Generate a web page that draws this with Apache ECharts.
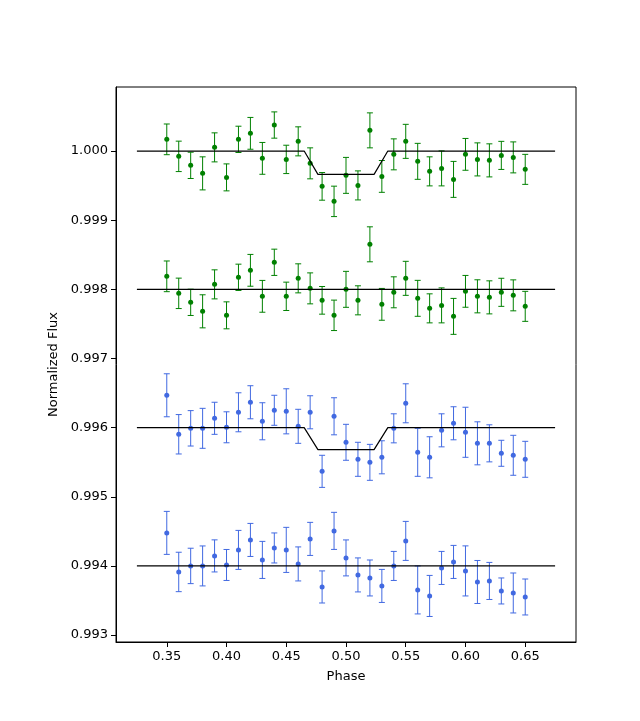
<!DOCTYPE html>
<html>
<head>
<meta charset="utf-8">
<script src="https://cdn.jsdelivr.net/npm/echarts@6/dist/echarts.min.js"></script>
<style>html,body{margin:0;padding:0;background:#fff;}#c{width:640px;height:721px;}</style>
</head>
<body>
<div id="c"></div>
<script>
const phase = [0.35,0.36,0.37,0.38,0.39,0.40,0.41,0.42,0.43,0.44,0.45,0.46,0.47,0.48,0.49,0.50,0.51,0.52,0.53,0.54,0.55,0.56,0.57,0.58,0.59,0.60,0.61,0.62,0.63,0.64,0.65];

const greenRaw = [1.000169,0.999923,0.999793,0.999677,1.000053,0.999619,1.000169,1.000256,0.999894,1.000376,0.999879,1.000140,0.999822,0.999489,0.999272,0.999648,0.999503,1.000299,0.999633,0.999952,1.000140,0.999851,0.999706,0.999749,0.999590,0.999952,0.999879,0.999865,0.999937,0.999908,0.999735];
const greenDetr = [0.998188,0.997942,0.997812,0.997682,0.998072,0.997624,0.998174,0.998275,0.997899,0.998391,0.997899,0.998159,0.998014,0.997841,0.997624,0.998000,0.997841,0.998651,0.997783,0.997957,0.998159,0.997870,0.997725,0.997768,0.997609,0.997971,0.997899,0.997884,0.997957,0.997913,0.997754];
const greenErr = [0.000222,0.000220,0.000190,0.000239,0.000210,0.000195,0.000190,0.000230,0.000230,0.000190,0.000205,0.000210,0.000224,0.000200,0.000220,0.000260,0.000210,0.000253,0.000230,0.000224,0.000246,0.000260,0.000210,0.000253,0.000260,0.000230,0.000239,0.000239,0.000203,0.000224,0.000217];

const blueRaw = [0.996468,0.995904,0.995990,0.995990,0.996135,0.996005,0.996222,0.996367,0.996092,0.996251,0.996236,0.996019,0.996222,0.995368,0.996164,0.995788,0.995542,0.995498,0.995571,0.995990,0.996352,0.995643,0.995571,0.995961,0.996063,0.995933,0.995773,0.995773,0.995629,0.995600,0.995542];
const blueDetr = [0.994478,0.993913,0.994000,0.994000,0.994145,0.994014,0.994232,0.994376,0.994087,0.994260,0.994232,0.994029,0.994391,0.993696,0.994507,0.994116,0.993870,0.993826,0.993711,0.994000,0.994362,0.993653,0.993566,0.993971,0.994058,0.993928,0.993768,0.993783,0.993638,0.993609,0.993551];
const blueErr = [0.000311,0.000285,0.000256,0.000289,0.000232,0.000224,0.000282,0.000239,0.000268,0.000217,0.000326,0.000246,0.000239,0.000232,0.000268,0.000260,0.000246,0.000260,0.000239,0.000210,0.000282,0.000347,0.000297,0.000239,0.000239,0.000362,0.000311,0.000268,0.000188,0.000289,0.000260];

const modelPhase = [0.325,0.465,0.4765,0.5235,0.535,0.675];
const greenModel = [1.000000,1.000000,0.999662,0.999662,1.000000,1.000000];
const blueModel = [0.996000,0.996000,0.995682,0.995682,0.996000,0.996000];
const flatPhase = [0.325,0.675];
const greenFlat = [0.998,0.998];
const blueFlat = [0.994,0.994];

const xTicks = [0.35,0.40,0.45,0.50,0.55,0.60,0.65];
const yTicks = [0.993,0.994,0.995,0.996,0.997,0.998,0.999,1.000];

const GREEN = '#008000', BLUE = '#4169E1';

function errSeries(vals, errs, color) {
  return {
    type: 'custom',
    data: phase.map((p, i) => [p, vals[i] - errs[i], vals[i] + errs[i]]),
    encode: { x: 0, y: [1, 2] },
    z: 2,
    silent: true,
    renderItem: function (params, api) {
      const lo = api.coord([api.value(0), api.value(1)]);
      const hi = api.coord([api.value(0), api.value(2)]);
      const cw = 3;
      const st = { stroke: color, lineWidth: 1 };
      return {
        type: 'group',
        children: [
          { type: 'line', shape: { x1: lo[0], y1: lo[1], x2: hi[0], y2: hi[1] }, style: st },
          { type: 'line', shape: { x1: lo[0] - cw, y1: lo[1], x2: lo[0] + cw, y2: lo[1] }, style: st },
          { type: 'line', shape: { x1: hi[0] - cw, y1: hi[1], x2: hi[0] + cw, y2: hi[1] }, style: st }
        ]
      };
    }
  };
}
function pts(vals, color) {
  return {
    type: 'scatter',
    data: phase.map((p, i) => [p, vals[i]]),
    symbol: 'circle',
    symbolSize: 5,
    itemStyle: { color: color, opacity: 1 },
    z: 3,
    silent: true
  };
}
function line(xs, ys) {
  return {
    type: 'line',
    data: xs.map((x, i) => [x, ys[i]]),
    symbol: 'none',
    lineStyle: { color: '#000', width: 1.2 },
    z: 4,
    silent: true,
    animation: false
  };
}

const chart = echarts.init(document.getElementById('c'));
chart.setOption({
  animation: false,
  backgroundColor: '#fff',
  textStyle: { fontFamily: 'DejaVu Sans' },
  grid: { left: 116, right: 64, top: 87, bottom: 79, show: true, borderColor: '#000', borderWidth: 1, backgroundColor: 'transparent' },
  xAxis: {
    type: 'value',
    min: 0.3075, max: 0.6925,
    name: 'Phase', nameLocation: 'middle', nameGap: 28,
    nameTextStyle: { color: '#000', fontSize: 13, fontFamily: 'DejaVu Sans' },
    axisLine: { show: true, onZero: false, lineStyle: { color: '#000', width: 1 } },
    axisTick: { show: true, length: 5, lineStyle: { color: '#000' }, customValues: xTicks },
    axisLabel: { color: '#000', fontSize: 13, margin: 8, customValues: xTicks, formatter: v => v.toFixed(2) },
    splitLine: { show: false }
  },
  yAxis: {
    type: 'value',
    min: 0.99290, max: 1.000926,
    name: 'Normalized Flux', nameLocation: 'middle', nameGap: 56, nameRotate: 90,
    nameTextStyle: { color: '#000', fontSize: 13, fontFamily: 'DejaVu Sans' },
    axisLine: { show: true, onZero: false, lineStyle: { color: '#000', width: 1 } },
    axisTick: { show: true, length: 5, lineStyle: { color: '#000' }, customValues: yTicks },
    axisLabel: { color: '#000', fontSize: 13, margin: 8, customValues: yTicks, formatter: v => v.toFixed(3) },
    splitLine: { show: false }
  },
  series: [
    errSeries(greenRaw, greenErr, GREEN), pts(greenRaw, GREEN),
    errSeries(greenDetr, greenErr, GREEN), pts(greenDetr, GREEN),
    errSeries(blueRaw, blueErr, BLUE), pts(blueRaw, BLUE),
    errSeries(blueDetr, blueErr, BLUE), pts(blueDetr, BLUE),
    line(modelPhase, greenModel),
    line(flatPhase, greenFlat),
    line(modelPhase, blueModel),
    line(flatPhase, blueFlat)
  ]
});
</script>
</body>
</html>
